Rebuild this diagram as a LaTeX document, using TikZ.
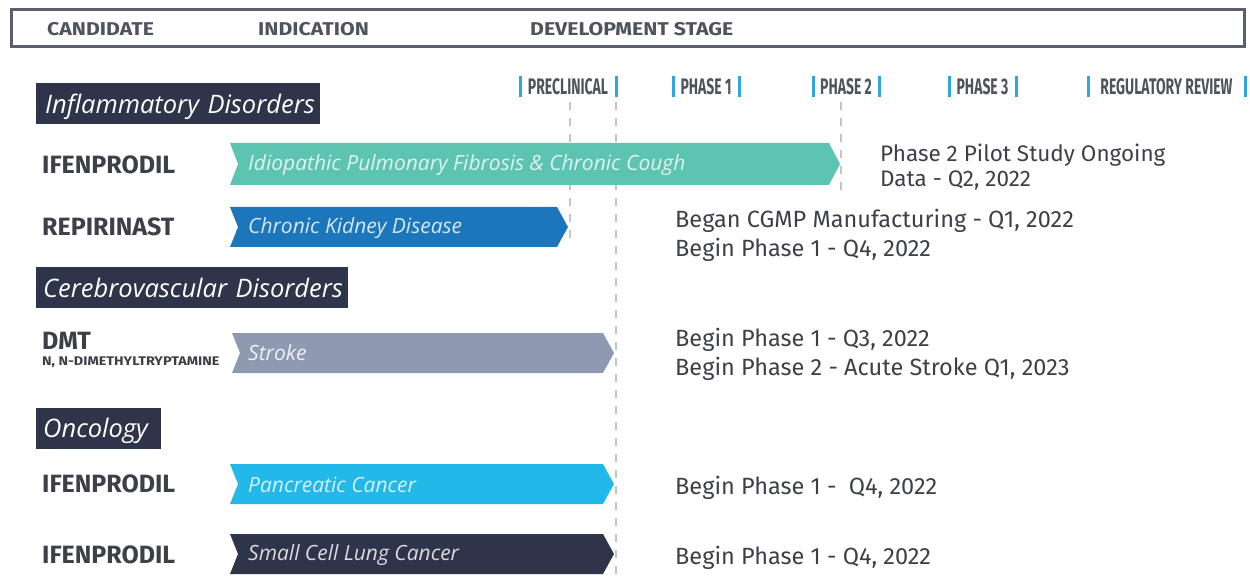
\documentclass[tikz,border=0pt]{standalone}
\usepackage{fontspec}
\setmainfont{Fira Sans}
\newfontfamily\osfont{Open Sans}
\newfontfamily\condfont[FakeStretch=0.62]{Fira Sans}
\newfontfamily\widefont[FakeStretch=1.15]{Fira Sans}
\definecolor{navy}{HTML}{2E3449}
\definecolor{teal}{HTML}{5DC4B2}
\definecolor{kblue}{HTML}{1B76BC}
\definecolor{sgray}{HTML}{8F9AB2}
\definecolor{cyanb}{HTML}{22B9E8}
\definecolor{barblue}{HTML}{2DA8DF}
\definecolor{txtgray}{HTML}{3D4048}
\definecolor{hdrgray}{HTML}{4F535C}
\definecolor{bordergray}{HTML}{5A5F6E}
\definecolor{dashgray}{HTML}{C4C4C4}
\newcommand\mychev[6]{% name, x1, x2, ytop, ybot, color
  \fill[#6] (#2,#4) -- ({#3-11},#4) -- (#3,{(#4+#5)/2}) -- ({#3-11},#5) -- (#2,#5) -- ({#2+8},{(#4+#5)/2}) -- cycle;
  \coordinate (#1) at ({#2+16},{(#4+#5)/2});
}
\tikzset{
  hdr/.style={font=\widefont\fontsize{18.5}{20}\selectfont\bfseries, text=hdrgray, anchor=west, inner sep=0pt},
  phase/.style={font=\condfont\fontsize{22.5}{24}\selectfont\bfseries, text=hdrgray, inner sep=0pt},
  catbox/.style={fill=navy, text=white, font=\osfont\itshape\fontsize{25.5}{28}\selectfont, anchor=west, inner sep=0pt, minimum height=41pt, text depth=0pt},
  cand/.style={font=\fontsize{25}{27}\selectfont\bfseries, text=txtgray, anchor=west, inner sep=0pt},
  arrlbl/.style={font=\osfont\itshape\fontsize{21}{24}\selectfont, anchor=west, inner sep=0pt},
  status/.style={font=\fontsize{23.5}{29}\selectfont, text=txtgray, anchor=north west, inner sep=0pt, align=left},
  vdash/.style={draw=dashgray, line width=1.4pt, dash pattern=on 8pt off 8pt},
  pbar/.style={draw=barblue, line width=3pt}
}
\begin{document}
\begin{tikzpicture}[x=1pt,y=-1pt]
\useasboundingbox (0,0) rectangle (1250,577);
% header box
\draw[bordergray, line width=3pt] (11,10) rectangle (1244,47);
\node[hdr] (hcand) at (47,29) {CANDIDATE};
\node[hdr] (hind) at (258,29) {INDICATION};
\node[hdr] (hdev) at (530,29) {DEVELOPMENT STAGE};
% dashed guide lines
\draw[vdash] (570,102) -- (570,246);
\draw[vdash] (616,102) -- (616,577);
\draw[vdash] (841,102) -- (841,190);
% phase labels
\foreach \nm/\a/\b/\t in {pre/520/616/PRECLINICAL, p1/673/739/PHASE 1, p2/813/879/PHASE 2, p3/949/1016/PHASE 3, rr/1088/1245/REGULATORY REVIEW}{
  \draw[pbar] (\a,76) -- (\a,97);
  \draw[pbar] (\b,76) -- (\b,97);
  \node[phase] (\nm) at ({(\a+\b)/2},86.5) {\t};
}
% categories
\node[catbox, text width=284pt, align=left] (catinf) at (36,104) {\hspace*{9pt}Inflammatory Disorders};
\node[catbox, text width=312pt, align=left] (catcer) at (36,288) {\hspace*{7pt}Cerebrovascular Disorders};
\node[catbox, text width=125pt, align=left] (catonc) at (36,428) {\hspace*{7pt}Oncology};
% candidates
\node[cand] (c1) at (42,165) {IFENPRODIL};
\node[cand] (c2) at (42,227) {REPIRINAST};
\node[cand] (c3) at (42,341) {DMT};
\node[font=\widefont\fontsize{12.5}{14}\selectfont\bfseries, text=txtgray, anchor=west, inner sep=0pt] (c3b) at (42,362) {N, N-DIMETHYLTRYPTAMINE};
\node[cand] (c4) at (42,484) {IFENPRODIL};
\node[cand] (c5) at (42,555) {IFENPRODIL};
% arrows
\mychev{a1}{230}{840}{143}{185}{teal}
\node[arrlbl, text=white!80!teal] (l1) at (248,165) {Idiopathic Pulmonary Fibrosis \& Chronic Cough};
\mychev{a2}{230}{568}{207}{247}{kblue}
\node[arrlbl, text=white!82!kblue] (l2) at (248,228) {Chronic Kidney Disease};
\mychev{a3}{232}{614}{333}{373}{sgray}
\node[arrlbl, text=white!85!sgray] (l3) at (248,353) {Stroke};
\mychev{a4}{230}{614}{464}{504}{cyanb}
\node[arrlbl, text=white!80!cyanb] (l4) at (248,485) {Pancreatic Cancer};
\mychev{a5}{230}{614}{534}{574}{navy}
\node[arrlbl, text=white!82!navy] (l5) at (248,555) {Small Cell Lung Cancer};
% status texts
\node[status, font=\fontsize{22.5}{25}\selectfont] (s1) at (880,144) {Phase 2 Pilot Study Ongoing\\Data - Q2, 2022};
\node[status] (s2) at (675,209) {Began CGMP Manufacturing - Q1, 2022\\Begin Phase 1 - Q4, 2022};
\node[status] (s3) at (675,328) {Begin Phase 1 - Q3, 2022\\Begin Phase 2 - Acute Stroke Q1, 2023};
\node[status] (s4) at (675,476) {Begin Phase 1 - \ Q4, 2022};
\node[status] (s5) at (675,546) {Begin Phase 1 - Q4, 2022};
\end{tikzpicture}
\end{document}
